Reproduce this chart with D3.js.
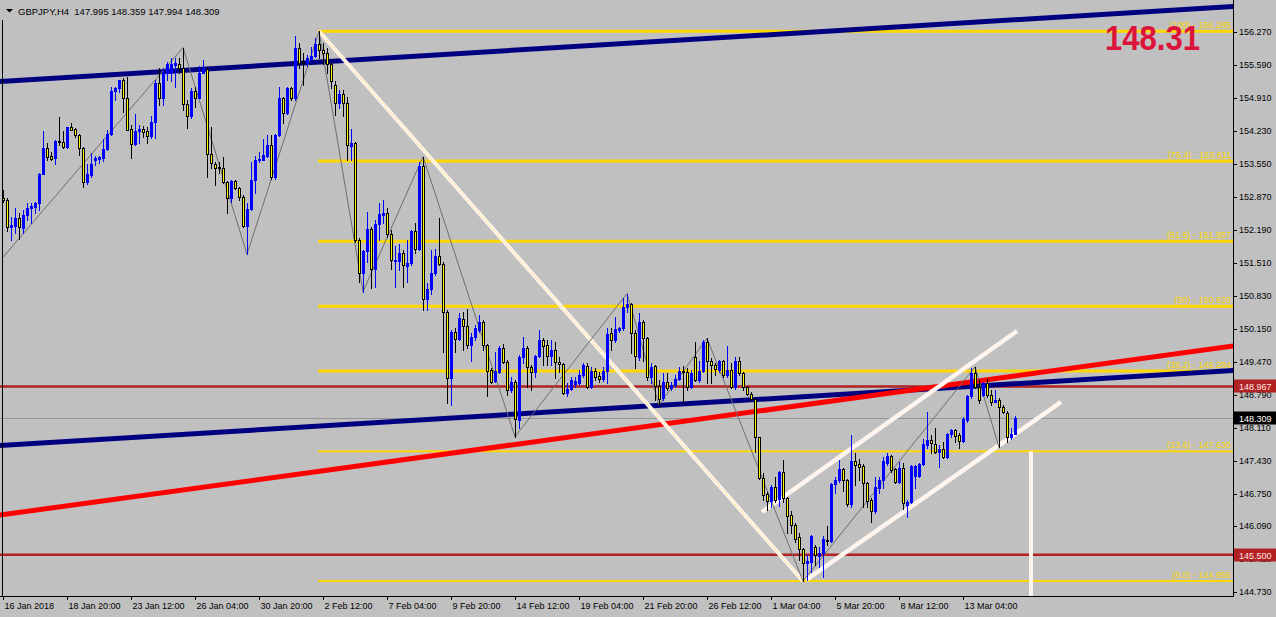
<!DOCTYPE html>
<html><head><meta charset="utf-8">
<script src="https://cdn.jsdelivr.net/npm/d3@7"></script>
<style>body{margin:0;background:#C0C0C0;overflow:hidden}svg{display:block}</style>
</head><body><svg id="c" width="1276" height="617"></svg>
<script>
// ---- data ----
const symbolTitle = "GBPJPY,H4";
const lastOHLC = [147.995, 148.359, 147.994, 148.309];
const xTickLabels = ["16 Jan 2018","18 Jan 20:00","23 Jan 12:00","26 Jan 04:00","30 Jan 20:00","2 Feb 12:00","7 Feb 04:00","9 Feb 20:00","14 Feb 12:00","19 Feb 04:00","21 Feb 20:00","26 Feb 12:00","1 Mar 04:00","5 Mar 20:00","8 Mar 12:00","13 Mar 04:00"];
const yTickValues = [156.270,155.590,154.910,154.230,153.550,152.870,152.190,151.510,150.830,150.150,149.470,148.790,148.110,147.430,146.750,146.090,145.410,144.730];
const open = [152.84,152.81,152.26,152.28,152.43,152.24,152.50,152.64,152.67,152.74,153.34,153.87,153.71,153.67,154.02,154.00,153.91,154.31,154.27,154.15,
153.87,153.17,153.32,153.63,153.65,153.67,153.86,154.16,155.05,155.11,155.28,154.92,154.27,153.96,154.22,154.27,154.22,154.13,154.41,155.21,
154.92,155.42,155.43,155.59,155.61,155.52,154.79,154.54,155.05,154.92,155.43,155.50,153.76,153.55,153.49,153.46,153.17,152.84,153.20,153.05,
152.88,152.28,152.62,153.23,153.63,153.63,153.71,153.94,153.29,154.15,154.92,154.61,155.11,154.90,155.95,155.66,155.64,155.71,155.78,156.02,
155.90,155.83,155.62,155.18,154.80,154.99,154.80,153.93,153.98,151.99,151.30,151.76,152.22,151.38,152.31,152.50,152.53,152.10,151.56,151.56,
151.71,151.45,151.50,152.17,151.79,153.51,150.76,150.97,151.30,151.65,151.48,150.49,149.15,150.08,149.94,150.35,150.22,149.81,149.98,150.13,
150.29,149.83,149.30,149.08,149.26,149.75,149.46,148.89,149.05,148.27,149.58,149.75,149.36,149.27,149.59,149.92,149.82,149.59,149.72,149.47,
149.43,148.84,148.91,149.02,149.03,149.21,149.39,148.95,149.29,149.18,149.11,149.29,150.06,149.92,150.13,150.16,150.61,150.66,150.06,149.58,
150.30,149.96,149.17,149.39,148.98,148.72,149.05,148.93,149.00,149.12,149.29,149.27,148.95,149.57,149.10,149.29,149.89,149.50,149.41,149.31,
149.48,149.20,149.31,148.95,149.48,149.24,148.96,148.81,148.70,147.92,147.07,146.75,146.61,146.90,146.64,147.20,146.66,146.32,146.12,145.86,
145.61,145.32,145.35,145.66,145.47,145.53,145.81,145.79,146.95,147.04,147.26,147.04,146.54,147.43,147.37,147.33,146.97,146.63,146.39,146.87,
147.04,147.38,147.53,147.26,147.00,147.28,146.52,146.58,147.12,147.12,147.37,147.76,147.86,147.79,147.62,147.68,147.51,147.98,148.06,147.97,
147.85,148.27,148.76,149.24,148.96,148.79,149.03,148.79,148.65,148.69,148.55,148.41,147.93,147.995];
const high = [153.01,152.84,152.46,152.64,152.53,152.60,152.74,152.74,152.77,153.36,154.24,153.98,153.80,154.04,154.51,154.22,154.32,154.39,154.29,154.17,
153.91,153.56,153.77,153.71,153.71,154.06,154.26,155.14,155.14,155.29,155.32,155.35,154.35,154.58,154.35,154.33,154.32,154.53,155.28,155.52,
155.52,155.66,155.73,155.73,155.73,155.95,154.87,155.11,155.14,155.56,155.69,155.54,154.32,153.60,153.60,153.70,153.19,153.22,153.22,153.08,
152.91,152.74,153.60,153.71,153.80,154.06,154.15,154.15,154.17,155.14,154.94,155.14,155.14,156.19,156.05,155.83,155.80,155.97,156.14,156.285,
156.04,155.93,155.66,155.25,155.08,155.08,154.94,154.28,154.01,152.02,151.78,152.57,152.26,152.40,152.74,152.81,152.64,152.19,151.85,151.91,
151.78,151.98,152.19,152.33,153.60,153.70,151.09,151.78,151.79,152.43,151.54,150.54,150.13,150.16,150.47,150.51,150.57,150.06,150.23,150.44,
150.34,149.85,149.34,149.68,149.79,149.84,149.51,149.17,149.10,149.61,149.98,149.80,149.41,149.61,150.13,149.96,149.92,149.92,149.89,149.58,
149.44,149.03,149.17,149.17,149.31,149.44,149.44,149.36,149.34,149.27,149.36,150.16,150.16,150.40,150.20,150.78,150.88,150.68,150.13,150.47,
150.34,149.99,149.44,149.41,149.10,149.24,149.24,149.06,149.21,149.36,149.39,149.34,149.31,149.89,149.48,149.92,149.96,149.55,149.44,149.51,
149.51,149.79,149.44,149.57,149.58,149.27,148.97,148.86,148.70,147.93,147.18,146.80,146.93,147.11,147.22,147.45,146.68,146.39,146.15,145.95,
145.63,145.49,145.90,145.70,145.66,145.88,146.08,146.98,147.11,147.45,147.29,147.05,147.97,147.59,147.48,147.37,147.00,146.66,147.11,147.11,
147.52,147.60,147.55,147.28,147.40,147.38,146.63,147.35,147.35,147.38,147.88,148.43,147.97,148.10,147.76,147.83,148.00,148.08,148.08,148.00,
148.34,148.79,149.34,149.37,149.10,149.06,149.11,148.89,148.89,148.72,148.58,148.45,148.10,148.359];
const low = [152.77,152.16,151.98,152.12,152.00,152.12,152.40,152.33,152.53,152.60,153.34,153.63,153.63,153.56,153.94,153.87,153.87,154.25,154.11,153.74,
153.08,153.14,153.29,153.53,153.58,153.62,153.84,154.15,154.87,155.04,154.63,154.25,153.67,153.94,153.98,154.11,153.98,154.08,154.08,154.77,
154.77,155.28,155.25,155.14,155.42,154.66,154.30,154.49,154.73,154.90,155.42,153.29,153.46,153.12,153.36,153.15,152.53,152.77,153.03,152.81,
152.26,151.69,152.60,152.96,153.60,153.63,153.70,153.25,153.25,154.13,154.40,154.59,154.87,154.87,155.52,155.18,155.56,155.69,155.76,155.73,
155.62,155.42,155.11,154.56,154.70,154.53,153.63,153.63,151.95,151.12,150.92,151.54,150.99,151.02,151.98,152.33,152.05,151.38,151.02,151.37,
151.02,151.12,151.47,151.71,151.78,150.54,150.54,150.88,151.26,151.47,149.67,148.63,148.58,149.68,149.92,149.72,149.75,149.48,149.92,150.09,
149.72,148.77,149.03,149.06,149.25,149.44,148.79,148.86,147.93,148.10,149.44,148.96,148.89,149.17,149.57,149.41,149.41,149.41,149.15,149.27,
148.82,148.76,148.89,148.96,149.00,149.17,148.93,148.93,149.10,149.06,149.08,149.03,149.72,149.89,150.09,150.13,150.51,149.66,149.34,149.51,
149.48,149.10,149.03,148.69,148.58,148.69,148.89,148.89,148.96,149.10,148.63,148.89,148.93,149.08,149.06,149.27,149.03,149.04,149.20,149.27,
149.17,149.17,148.93,148.91,149.20,148.89,148.79,148.69,147.62,147.05,146.63,146.42,146.49,146.59,146.51,146.59,145.95,145.94,145.77,145.39,
144.956,144.98,145.15,145.29,145.25,145.03,145.70,145.77,146.76,147.00,146.82,146.50,146.49,146.93,147.04,146.49,146.49,146.18,146.35,146.76,
146.87,147.35,147.21,146.98,146.97,146.45,146.28,146.56,146.87,147.11,147.35,147.69,147.59,147.59,147.31,147.49,147.49,147.93,147.83,147.69,
147.83,148.24,148.72,148.94,148.62,148.76,148.74,148.58,148.65,147.71,148.41,147.83,147.88,147.994];
const close = [152.80,152.26,152.29,152.43,152.26,152.50,152.64,152.68,152.75,153.34,153.87,153.70,153.66,154.02,154.00,153.91,154.31,154.26,154.15,153.87,
153.17,153.34,153.55,153.67,153.69,153.86,154.16,155.05,155.11,155.28,154.92,154.26,153.96,154.22,154.27,154.20,154.13,154.41,155.21,154.92,
155.42,155.62,155.62,155.64,155.52,154.79,154.54,155.05,154.92,155.43,155.50,153.76,153.58,153.46,153.46,153.17,152.84,153.20,153.05,152.88,
152.28,152.62,153.23,153.63,153.65,153.73,153.94,153.29,154.15,154.92,154.61,155.11,154.90,155.95,155.64,155.64,155.73,155.78,156.02,155.90,
155.83,155.62,155.25,154.80,154.99,154.80,153.94,153.99,151.98,151.30,151.76,152.22,151.38,152.31,152.51,152.53,152.10,151.57,151.57,151.71,
151.47,151.50,152.17,151.79,153.51,150.76,150.97,151.30,151.65,151.48,150.49,149.15,150.09,149.94,150.37,150.22,149.81,149.98,150.16,150.29,
149.83,149.29,149.06,149.28,149.75,149.46,148.89,149.05,148.29,149.58,149.75,149.37,149.27,149.59,149.92,149.80,149.59,149.72,149.46,149.43,
148.84,148.91,149.10,149.07,149.21,149.41,148.95,149.29,149.17,149.11,149.29,150.04,149.92,150.15,150.18,150.61,150.66,150.06,149.59,150.30,
149.96,149.17,149.37,148.98,148.71,149.05,148.93,149.00,149.11,149.29,149.27,148.95,149.24,149.10,149.29,149.89,149.48,149.41,149.32,149.48,
149.20,149.31,148.95,149.48,149.24,148.96,148.81,148.71,147.92,147.07,146.73,146.61,146.90,146.63,147.20,146.66,146.30,146.11,145.82,145.61,
145.32,145.37,145.88,145.49,145.53,145.82,145.80,146.96,147.04,147.26,147.04,146.54,147.43,147.35,147.31,146.97,146.61,146.39,146.90,147.04,
147.42,147.53,147.24,147.00,147.28,146.56,146.58,147.33,147.33,147.37,147.79,147.86,147.81,147.61,147.68,147.51,147.98,148.06,147.95,147.85,
148.30,148.77,149.24,148.96,148.69,149.03,148.79,148.65,148.69,148.55,148.43,147.93,147.99,148.309];

const zigzagBars   = [0, 45, 61, 79, 90, 105, 128, 156, 164, 176, 200, 243, 249];
const zigzagPrices = [151.63,155.95,151.69,156.285,150.92,153.70,147.93,150.88,148.58,149.96,144.956,149.37,147.71];

const fibRatios = ["100","76.4","61.8","50","38.2","23.6","0.0"];
const fibPrices = [156.285,153.611,151.957,150.620,149.284,147.630,144.956];
const fibAnchorBars = [79, 200];

const redLevels = [148.967, 145.500];
const lastPrice = 148.309;
const bigLabel = "148.31";

// trend lines as [bar, price] endpoints
const navyUpper = [[0,155.254],[300,156.758]];
const navyLower = [[0,147.753],[300,149.257]];
const redTrend  = [[0,146.325],[300,149.713]];
const channelUpper = [[189.75,146.379],[253.5,150.108]];
const channelLower = [[200.75,144.977],[264.5,148.645]];
const whiteVertical = [[257,147.630],[257,144.500]];

// ---- layout ----
const W = 1276, H = 617, plotR = 1233, plotB = 596;
const svg = d3.select("#c");
const x = d3.scaleLinear().domain([0,1]).range([3,7]);
const y = d3.scaleLinear().domain([144.73,156.27]).range([592,32]);
const FONT = "Liberation Sans, Arial, sans-serif";

svg.append("rect").attr("width",W).attr("height",H).attr("fill","#C0C0C0");
svg.append("defs").append("clipPath").attr("id","pc")
  .append("rect").attr("x",0).attr("y",0).attr("width",plotR).attr("height",plotB);

const plot = svg.append("g").attr("clip-path","url(#pc)");

function extLine(p, x0, x1){
  const [a,b]=p; const s=(b[1]-a[1])/(b[0]-a[0]);
  return [[x0, a[1]+s*(x0-a[0])],[x1, a[1]+s*(x1-a[0])]];
}
const line = d3.line().x(d=>x(d[0])).y(d=>y(d[1]));

// horizontal red levels and last price line
redLevels.forEach(v=>{
  plot.append("line").attr("x1",0).attr("x2",plotR).attr("y1",y(v)).attr("y2",y(v))
    .attr("stroke","#B22222").attr("stroke-width",2.5);
});
plot.append("line").attr("x1",0).attr("x2",plotR).attr("y1",Math.round(y(lastPrice))+0.5).attr("y2",Math.round(y(lastPrice))+0.5)
  .attr("stroke","#969696").attr("stroke-width",1);

// fib levels
fibPrices.forEach((v,i)=>{
  plot.append("line").attr("x1",x(fibAnchorBars[0])-1).attr("x2",plotR).attr("y1",y(v)).attr("y2",y(v))
    .attr("stroke","#FFD700").attr("stroke-width", i>=5 ? 2 : 3);
  plot.append("text").attr("x",plotR-2).attr("y",y(v)-3).attr("text-anchor","end")
    .attr("font-family",FONT).attr("font-size","9px").attr("fill","#FFD700")
    .text("("+fibRatios[i]+") - "+v.toFixed(3));
});

// trend lines
plot.append("path").attr("d",line(extLine(navyUpper,-5,320))).attr("stroke","#000080").attr("stroke-width",5).attr("fill","none");
plot.append("path").attr("d",line(extLine(navyLower,-5,320))).attr("stroke","#000080").attr("stroke-width",5).attr("fill","none");
plot.append("path").attr("d",line(extLine(redTrend,-5,320))).attr("stroke","#FF0000").attr("stroke-width",5).attr("fill","none");

// fib diagonal
const fibDiag = [[fibAnchorBars[0],fibPrices[0]],[fibAnchorBars[1],fibPrices[6]]];
plot.append("path").attr("d",line(fibDiag)).attr("stroke","#FFF5EE").attr("stroke-width",4).attr("fill","none");
plot.append("path").attr("d",line(fibDiag)).attr("stroke","#FFD700").attr("stroke-width",1).attr("stroke-dasharray","1,2").attr("fill","none");

// channel + vertical
[channelUpper, channelLower].forEach(p=>{
  plot.append("path").attr("d",line(p)).attr("stroke","#FFF5EE").attr("stroke-width",4.5).attr("fill","none");
});
plot.append("path").attr("d",line(whiteVertical)).attr("stroke","#FFF5EE").attr("stroke-width",4).attr("fill","none");

// zigzag
plot.append("path").attr("d",line(zigzagBars.map((b,i)=>[b,zigzagPrices[i]])))
  .attr("stroke","#6E6E6E").attr("stroke-width",1).attr("fill","none");

// candles
const cg = plot.append("g").attr("shape-rendering","crispEdges");
open.forEach((o,i)=>{
  const c = close[i];
  const cx = Math.round(x(i));
  const hi = Math.round(y(high[i])), lo = Math.round(y(low[i]));
  const bt = Math.round(y(Math.max(o,c)));
  let bb = Math.round(y(Math.min(o,c)));
  if (bb<=bt) bb = bt+1;
  const bull = c>=o;
  cg.append("rect").attr("x",cx).attr("y",hi).attr("width",1).attr("height",Math.max(1,lo-hi+1))
    .attr("fill", bull?"#0000FF":"#000000");
  cg.append("rect").attr("x",cx-1).attr("y",bt).attr("width",3).attr("height",bb-bt+1)
    .attr("fill", bull?"#0000FF":"#000000");
  if(!bull && bb-bt>=2){
    cg.append("rect").attr("x",cx).attr("y",bt+1).attr("width",1).attr("height",bb-bt-1).attr("fill","#FFFF00");
  }
});

// big label
svg.append("text").attr("x",1105).attr("y",49.5).attr("font-family",FONT).attr("font-weight","bold")
  .attr("font-size","35px").attr("fill","#DC143C").attr("textLength",95).attr("lengthAdjust","spacingAndGlyphs").text(bigLabel);

// frame
svg.append("line").attr("x1",plotR+0.5).attr("x2",plotR+0.5).attr("y1",0).attr("y2",plotB+1).attr("stroke","#000");
svg.append("line").attr("x1",0).attr("x2",plotR+1).attr("y1",plotB+0.5).attr("y2",plotB+0.5).attr("stroke","#000");
svg.append("line").attr("x1",2.5).attr("x2",2.5).attr("y1",20).attr("y2",plotB).attr("stroke","#000");

// y axis
const yAxis = d3.axisRight(y).tickValues(yTickValues).tickSize(4).tickPadding(2).tickFormat(d3.format(".3f"));
svg.append("g").attr("transform",`translate(${plotR},0)`).call(yAxis)
  .call(g=>g.select(".domain").remove())
  .call(g=>g.selectAll("line").attr("stroke","#000"))
  .call(g=>g.selectAll("text").attr("font-family",FONT).attr("font-size","9px").attr("fill","#000"));

// x axis
const xAxis = d3.axisBottom(x).tickValues(d3.range(0, xTickLabels.length*16, 16)).tickSize(4)
  .tickFormat((d,i)=>xTickLabels[i]);
svg.append("g").attr("transform",`translate(0,${plotB})`).call(xAxis)
  .call(g=>g.select(".domain").remove())
  .call(g=>g.selectAll("line").attr("stroke","#000"))
  .call(g=>g.selectAll("text").attr("text-anchor","start").attr("x",1).attr("y",13).attr("dy",0)
     .attr("font-family",FONT).attr("font-size","9px").attr("fill","#000"));

// price boxes
function priceBox(v, bg, fg){
  const yy = Math.round(y(v));
  svg.append("rect").attr("x",plotR+1).attr("y",yy-6.5).attr("width",W-plotR-1).attr("height",13).attr("fill",bg);
  svg.append("text").attr("x",plotR+6).attr("y",yy+3.5).attr("font-family",FONT).attr("font-size","9px")
    .attr("fill",fg).text(v.toFixed(3));
}
redLevels.forEach(v=>priceBox(v,"#B22222","#FFE4E1"));
priceBox(lastPrice,"#000000","#FFFFFF");

// header
svg.append("path").attr("d","M6,9 L13,9 L9.5,12.5 Z").attr("fill","#000");
svg.append("text").attr("x",18).attr("y",14.5).attr("font-family",FONT).attr("font-size","9.5px").attr("fill","#000")
  .style("white-space","pre")
  .text(symbolTitle + "  " + lastOHLC.map(v=>v.toFixed(3)).join(" "));
</script></body></html>
